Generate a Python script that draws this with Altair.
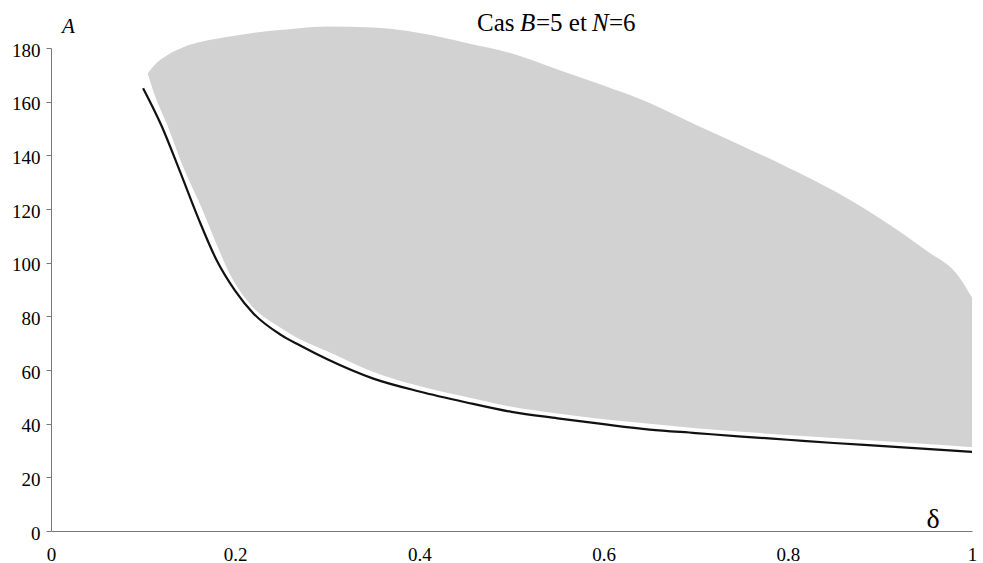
import altair as alt
import pandas as pd

# Lower boundary curve A(delta)
curve_delta = [0.10, 0.12, 0.14, 0.16, 0.18, 0.20, 0.22, 0.25, 0.27, 0.30, 0.35,
               0.40, 0.45, 0.50, 0.55, 0.60, 0.65, 0.70, 0.75, 0.80, 0.85, 0.90,
               0.95, 1.00]
curve_A = [165, 151, 134, 116.5, 100.8, 89.5, 81, 73, 69.2, 64, 56.8,
           52, 48, 44.4, 42, 39.8, 37.8, 36.5, 35.2, 34, 32.8, 31.7,
           30.6, 29.5]

# Shaded feasible region: lower and upper edges
region_delta = [0.105, 0.112, 0.127, 0.145, 0.163, 0.178, 0.194, 0.219, 0.248,
                0.27, 0.30, 0.35, 0.40, 0.45, 0.50, 0.55, 0.60, 0.65, 0.70,
                0.75, 0.80, 0.85, 0.90, 0.95, 0.986, 1.00]
region_low = [170.5, 163, 150.6, 134.4, 120.8, 108.3, 95.9, 83.5, 76,
              71.5, 67, 59.3, 54, 50, 46.3, 43.8, 41.6, 40, 38.3,
              37, 35.8, 34.7, 33.5, 32.4, 31.6, 31.3]
region_high = [170.5, 173.5, 177.5, 180.5, 182.3, 183.4, 184.3, 185.6, 186.7,
               187.4, 188.0, 187.6, 185.6, 182, 178, 172, 166, 159.5, 151.4,
               143.6, 135.5, 126.8, 116.5, 104.6, 94.7, 87]

x_ticks = [0, 0.2, 0.4, 0.6, 0.8, 1]
y_ticks = [0, 20, 40, 60, 80, 100, 120, 140, 160, 180]

SERIF = "Times New Roman, Liberation Serif, serif"

curve_df = pd.DataFrame({"delta": curve_delta, "A": curve_A})
region_df = pd.DataFrame({"delta": region_delta, "low": region_low, "high": region_high})

x_scale = alt.Scale(domain=[0, 1], nice=False, zero=False)
y_scale = alt.Scale(domain=[0, 180], nice=False)

x_axis = alt.Axis(values=x_ticks, format="~g", title=None, grid=False,
                  ticks=False, labelPadding=14, labelFont=SERIF, labelFontSize=19,
                  labelColor="black", domainColor="#777", labelFlush=False)
y_axis = alt.Axis(values=y_ticks, title=None, grid=False, tickSize=5,
                  tickColor="#777", labelPadding=6, labelFont=SERIF,
                  labelFontSize=19, labelColor="black", domainColor="#777",
                  labelOffset=2, labelFlush=False)

region = alt.Chart(region_df).mark_area(
    color="#d2d2d2", opacity=1, interpolate="monotone"
).encode(
    x=alt.X("delta:Q", scale=x_scale, axis=x_axis),
    y=alt.Y("low:Q", scale=y_scale, axis=y_axis),
    y2="high:Q",
)

curve = alt.Chart(curve_df).mark_line(
    color="#111111", strokeWidth=2.2, interpolate="monotone"
).encode(
    x=alt.X("delta:Q", scale=x_scale),
    y=alt.Y("A:Q", scale=y_scale),
)


def label(text, x, y, size, style="normal", align="left"):
    return alt.Chart(alt.Data(values=[{}])).mark_text(
        text=text, font=SERIF, fontSize=size, fontStyle=style,
        align=align, baseline="alphabetic", color="black",
    ).encode(x=alt.value(x), y=alt.value(y))


# Title "Cas B=5 et N=6" with italic symbols, set piece by piece
title_parts = [
    label("Cas", 426, -17, 25),
    label("B", 469, -17, 25, "italic"),
    label("=5 et", 485, -17, 25),
    label("N", 541, -17, 25, "italic"),
    label("=6", 558, -17, 25),
]
axis_names = [
    label("A", 11, -15, 21, "italic"),
    label("δ", 882, 480, 28, align="center"),
]

chart = alt.layer(region, curve, *title_parts, *axis_names).properties(
    width=921,
    height=483,
    autosize=alt.AutoSizeParams(type="none"),
    padding={"left": 51, "top": 48, "right": 11, "bottom": 32},
    background="white",
).configure_view(stroke=None)

chart.save("out.html", embed_options={"renderer": "svg", "actions": False})
